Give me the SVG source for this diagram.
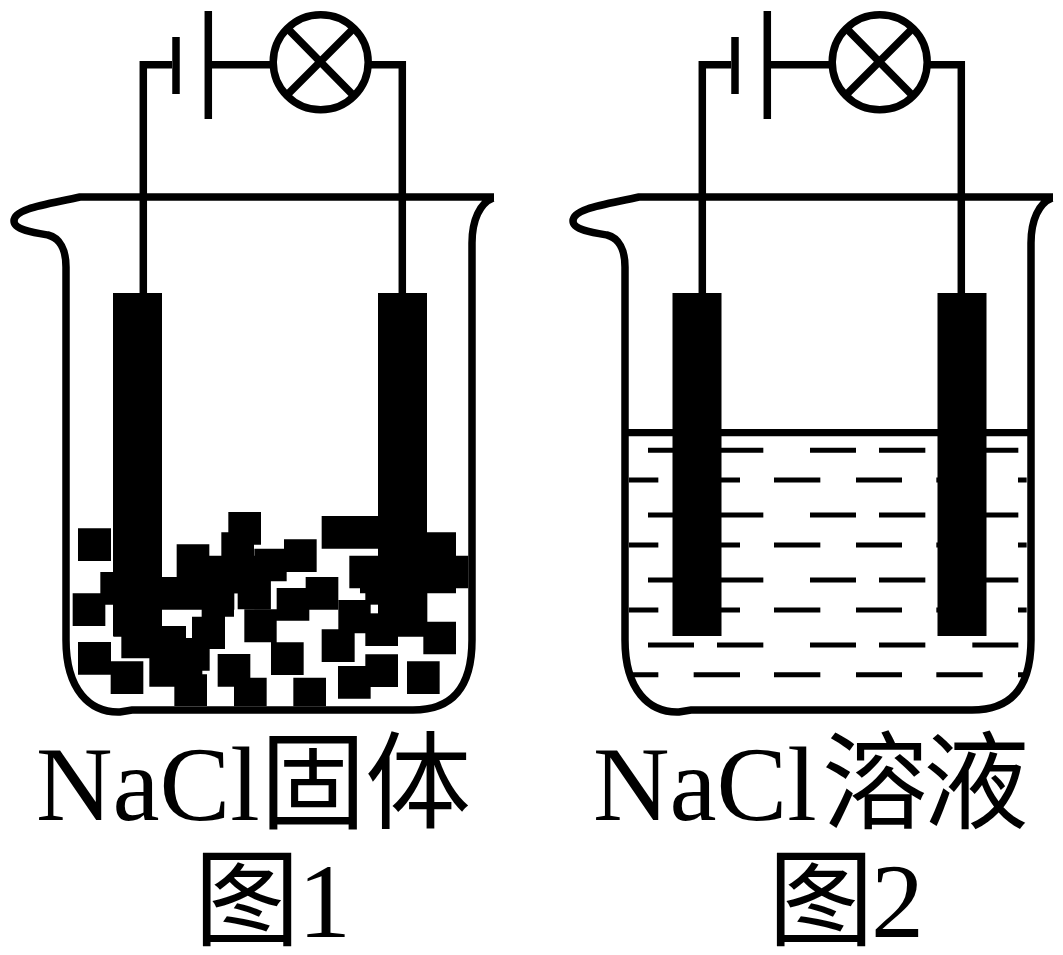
<svg xmlns="http://www.w3.org/2000/svg" width="1063" height="955" viewBox="0 0 1063 955">
<style>
.ln{fill:none;stroke:#000;stroke-width:7.5}
.dash{fill:none;stroke:#000;stroke-width:15}
.solid{fill:#000}
.t{font-family:"Liberation Serif","Noto Sans CJK SC",serif;font-size:106px;fill:#000}
</style>
<defs>
<g id="beakerShape"><path class="ln" d="M494,197H80C50,204 14,208 14,221C14,230 35,233 48,235C60,238 66,250 66,267V640C66,690 90,713 120,712L132,710H413C450,710 472,690 472,640V243C472,220 480,203 493,198"/></g>
<g id="batteryShape"><path class="ln" d="M176,37V94M208.300,11V119"/></g>
<g id="lampShape"><circle class="ln" cx="320.700" cy="62.300" r="47.500"/><path class="ln" d="M288,29L353,95M353,29L287,95"/></g>
<g id="electrodes"><rect class="solid" x="113" y="293" width="49" height="343"/><rect class="solid" x="378" y="293" width="49" height="343"/></g>
<path id="rowA" class="dash" d="M114,0H252M321,0H460M600,0H738M807,0H946M1087,0H1225"/>
<path id="rowB" class="dash" d="M57,0H145M251,0H390M492,0H631M738,0H876M979,0H1118M1224,0H1250"/>
</defs>

<g id="connectors">
<path class="ln" d="M172,64.700H143.300V293M208,64.700H273M368,64.700H402.300V293"/>
<path class="ln" transform="translate(559 0)" d="M172,64.700H143.300V293M208,64.700H273M368,64.700H402.300V293"/>
</g>

<g id="beaker-1"><use href="#beakerShape"/></g>
<g id="battery-1"><use href="#batteryShape"/></g>
<g id="lamp-1"><use href="#lampShape"/></g>

<g id="solid-nacl" class="solid" transform="translate(60 500) scale(.33333)">
<path d="M54,85H153V183H54Z"/>
<path d="M505,36H603V134H505ZM484,97H582V195H484ZM350,133H448V231H350ZM350,167H584V280H350ZM583,146H770V216H583ZM672,118H770V216H672ZM583,146H680V244H583ZM583,216H632V328H583Z"/>
<path d="M160,231H632V280H160ZM160,280H523V329H160ZM121,216H220V314H121ZM533,280H632V328H533ZM425,329H522V350H425ZM396,350H495V447H396ZM306,378H378V447H306ZM378,414H396V447H378ZM160,329H306V410H160ZM184,410H306V475H184ZM268,447H449V512H268ZM268,512H427V560H268ZM343,523H441V618H343ZM343,512H427V560H343Z"/>
<path d="M553,328H650V427H553ZM650,264H748V362H650ZM737,231H835V329H737ZM633,427H731V525H633Z"/>
<path d="M785,48H955V146H785ZM868,167H1225V265H868ZM900,265H1188V280H900ZM1090,97H1188V195H1090ZM916,280H1102V410H916ZM835,300H955V400H835ZM1014,365H1188V410H1014ZM1090,365H1188V463H1090ZM916,400H1014V438H916ZM785,388H884V486H785Z"/>
<path d="M916,463H1014V561H916ZM834,498H932V596H834ZM1041,484H1139V582H1041ZM38,280H136V378H38ZM54,426H153V524H54ZM152,484H250V582H152ZM473,462H571V560H473ZM522,533H620V619H522ZM700,533H798V619H700Z"/>
<rect x="932" y="314" width="22" height="26" fill="#fff"/>
</g>
<g id="electrodes-1"><use href="#electrodes"/></g>

<g id="beaker-2" transform="translate(559 0)"><use href="#beakerShape"/></g>
<g id="battery-2" transform="translate(559 0)"><use href="#batteryShape"/></g>
<g id="lamp-2" transform="translate(559 0)"><use href="#lampShape"/></g>

<g id="solution" transform="translate(610 420) scale(.33333)">
<path class="dash" style="stroke-width:22" d="M45,38H1262"/>
<use href="#rowA" y="91"/><use href="#rowB" y="180"/>
<use href="#rowA" y="285"/><use href="#rowB" y="375"/>
<use href="#rowA" y="480"/><use href="#rowB" y="570"/>
<use href="#rowA" y="675"/><use href="#rowB" y="764"/>
</g>
<g id="electrodes-2" transform="translate(559.500 0)"><use href="#electrodes"/></g>

<g id="label-1">
<text class="t" x="36" y="820">NaCl</text>
<text class="t" x="260" y="820">固</text>
<text class="t" x="365" y="820">体</text>
<text class="t" x="194" y="937">图</text>
<text class="t" x="298" y="937">1</text>
</g>
<g id="label-2">
<text class="t" x="593" y="820">NaCl</text>
<text class="t" x="822" y="820">溶</text>
<text class="t" x="923" y="820">液</text>
<text class="t" x="768" y="937">图</text>
<text class="t" x="871" y="937">2</text>
</g>
</svg>
